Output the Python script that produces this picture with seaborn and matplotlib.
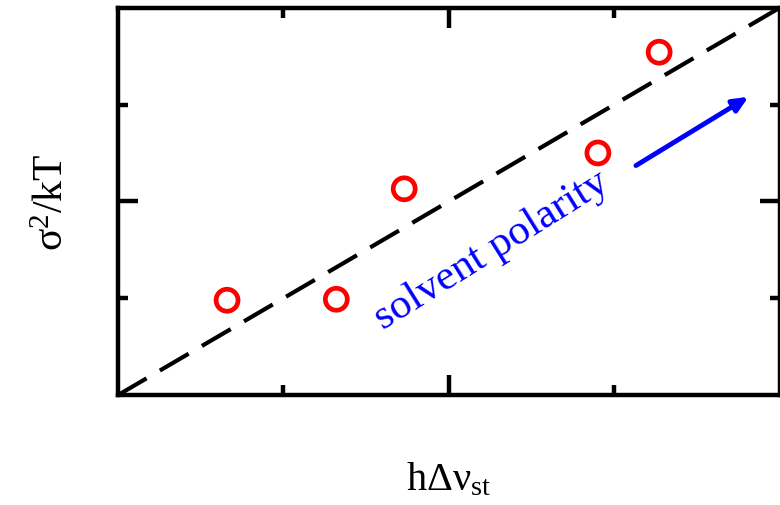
import numpy as np
import pandas as pd
import matplotlib
matplotlib.use('Agg')
import matplotlib.pyplot as plt
import seaborn as sns

sns.set_style('white')
plt.rcParams['font.family'] = ['Liberation Serif', 'DejaVu Serif']
plt.rcParams['mathtext.fontset'] = 'custom'
plt.rcParams['mathtext.rm'] = 'Liberation Serif'
plt.rcParams['mathtext.it'] = 'Liberation Serif:italic'
plt.rcParams['text.color'] = 'black'
plt.rcParams['axes.labelcolor'] = 'black'

# measured points (h dnu_st vs sigma^2/kT), arbitrary units
h_dnu = [0.66, 1.32, 1.73, 2.90, 3.27]
sigma2_kT = [0.98, 0.99, 2.13, 2.50, 3.54]

# linear fit through origin
fit_x = [0.0, 4.0]
fit_y = [0.0, 4.0]

# solvent polarity arrow
arrow_tail = (3.13, 2.37)
arrow_head = (3.81, 3.08)

df = pd.DataFrame({'x': h_dnu, 'y': sigma2_kT})
fit = pd.DataFrame({'x': fit_x, 'y': fit_y})

fig = plt.figure(figsize=(7.8, 5.06), dpi=100)
ax = fig.add_axes([0.151, 0.217, 0.849, 0.766])

sns.lineplot(data=fit, x='x', y='y', ax=ax, color='black', lw=3, dashes=False)
ax.lines[0].set_dashes((8, 3.7))
sns.scatterplot(data=df, x='x', y='y', ax=ax, marker='o', s=250,
                facecolors='none', edgecolor='red', linewidth=3.4, zorder=3)

ax.annotate('', xy=arrow_head, xytext=arrow_tail,
            arrowprops=dict(arrowstyle='-|>,head_length=0.9,head_width=0.4',
                            color='blue', lw=3.5, shrinkA=0, shrinkB=0))
ax.text(2.26, 1.5, 'solvent polarity', color='blue', fontsize=31,
        rotation=32, ha='center', va='center', rotation_mode='anchor')

ax.set_xlim(0, 4)
ax.set_ylim(0, 4)
ax.set_xticks([2])
ax.set_xticks([1, 3], minor=True)
ax.set_yticks([2])
ax.set_yticks([1, 3], minor=True)
ax.tick_params(which='both', direction='in', top=True, right=True,
               bottom=True, left=True, labelbottom=False, labelleft=False,
               width=3.2, color='black')
ax.tick_params(which='major', length=14.5)
ax.tick_params(which='minor', length=7.5)
for sp in ax.spines.values():
    sp.set_linewidth(3.2)
    sp.set_color('black')

ax.set_xlabel(r'$\mathrm{h\Delta\nu_{st}}$', fontsize=29, labelpad=47)
ax.set_ylabel(r'$\mathrm{\sigma^2/kT}$', fontsize=30, labelpad=33)

fig.savefig('out.png', dpi=100)
